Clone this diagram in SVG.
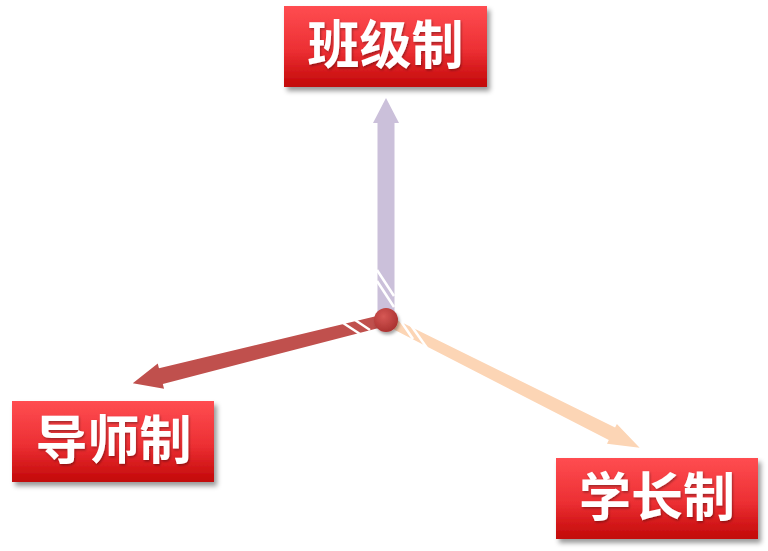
<svg xmlns="http://www.w3.org/2000/svg" width="768" height="551" viewBox="0 0 768 551">
<defs>
<linearGradient id="boxg" x1="0" y1="0" x2="0" y2="1">
<stop offset="0" stop-color="#ff4d51"/>
<stop offset="0.55" stop-color="#ec2f33"/>
<stop offset="1" stop-color="#c20808"/>
</linearGradient>
<radialGradient id="ballg" cx="0.4" cy="0.35" r="0.7">
<stop offset="0" stop-color="#d65855"/>
<stop offset="1" stop-color="#a8302e"/>
</radialGradient>
<filter id="sh" x="-10%" y="-10%" width="125%" height="130%">
<feDropShadow dx="3" dy="4" stdDeviation="2.5" flood-color="#000" flood-opacity="0.4"/>
</filter>
<filter id="tsh" x="-10%" y="-10%" width="120%" height="130%">
<feDropShadow dx="1" dy="1.5" stdDeviation="1" flood-color="#000" flood-opacity="0.35"/>
</filter>
<filter id="bsh" x="-50%" y="-50%" width="200%" height="200%">
<feDropShadow dx="1.5" dy="2.5" stdDeviation="1.5" flood-color="#000" flood-opacity="0.35"/>
</filter>
</defs>
<style>
.box{fill:url(#boxg);filter:url(#sh)}
.lbl{font-family:"Noto Sans CJK SC","Noto Sans",sans-serif;font-weight:bold;font-size:52px;fill:#fff;text-anchor:middle;filter:url(#tsh)}
.gap{stroke:#fff;stroke-width:2.5;fill:none}
</style>
<rect width="768" height="551" fill="#fff"/>
<g id="connectors">
<polygon id="arrow-up" fill="#cbc0da" points="377.5,312 377.5,123 373,123 386,98 399,123 394.5,123 394.5,312"/>
<g id="arrow-left" transform="translate(386,320) rotate(166)">
<polygon fill="#c0504d" points="8,-6 232,-8 232,-13 261,0 232,13 232,8 8,6"/>
</g>
<g id="arrow-right" transform="translate(386,320) rotate(26.74)">
<polygon fill="#fcd5b5" points="8,-5 253,-7 253,-11 284,0 253,11 253,7 8,5"/>
</g>
<line class="gap" x1="377" y1="270" x2="394" y2="296"/>
<line class="gap" x1="377" y1="281" x2="394" y2="307"/>
<line class="gap" x1="340" y1="321" x2="360" y2="334"/>
<line class="gap" x1="352" y1="318" x2="370" y2="330"/>
<line class="gap" x1="400" y1="320" x2="413" y2="339"/>
<line class="gap" x1="410" y1="324" x2="427" y2="348"/>
<circle cx="386" cy="320" r="12" fill="url(#ballg)" filter="url(#bsh)"/>
</g>
<g id="node-banji">
<rect class="box" x="284" y="6" width="203" height="81"/>
<text class="lbl" x="385.5" y="64">班级制</text>
</g>
<g id="node-daoshi">
<rect class="box" x="12" y="401" width="202" height="81"/>
<text class="lbl" x="113.5" y="459">导师制</text>
</g>
<g id="node-xuezhang">
<rect class="box" x="556" y="458" width="202" height="81"/>
<text class="lbl" x="657" y="516">学长制</text>
</g>
</svg>
